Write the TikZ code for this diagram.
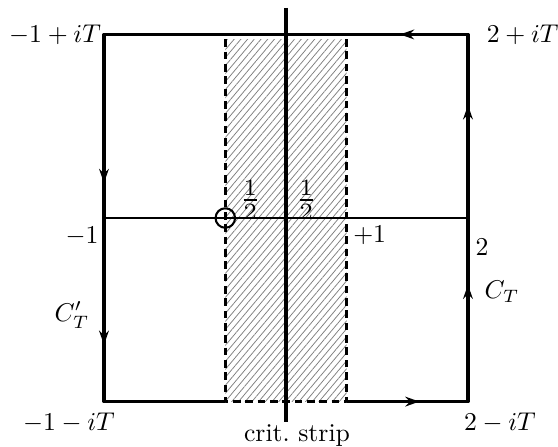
\documentclass[tikz,border=0pt]{standalone}
\usepackage{amsmath,amssymb}
\usetikzlibrary{patterns.meta,arrows.meta}
\begin{document}
\begin{tikzpicture}[x=1.66cm,y=1.66cm,>={Stealth[length=5.5pt,width=3.8pt,inset=1.8pt]},line join=round]
% ================= contour round the critical strip =================
  \def\tH{1.513}                        % height T of the box
  \def\sT{1.473}                        % top of the hatched strip
  \useasboundingbox (-1.857,-1.880) rectangle (2.742,1.797);
  \coordinate (ll) at (-1,-\tH);
  \coordinate (ul) at (-1,\tH);
  \coordinate (ur) at (2,\tH);
  \coordinate (lr) at (2,-\tH);
  \coordinate (sl) at (0,-\tH);
  \coordinate (sr) at (1,-\tH);
  % strip 0 < Re s < 1
  \fill[pattern={Lines[angle=50,distance=2.0pt,line width=0.3pt]},pattern color=black!50]
      (sl) rectangle (1,\sT);
  \draw[very thick,dash pattern=on 3pt off 1.8pt] (0,\sT) -- (sl) -- (sr) -- (1,\sT);
  % box
  \draw[very thick] (sl) -- (ll) -- (ul) -- (ur) -- (lr) -- (sr);
  % axes
  \draw[thick] (-1,0) -- (2,0);
  \draw[very thick] (0.5,1.731) -- (0.5,-1.682);
  \node[circle,draw,thick,minimum size=7.6pt,inner sep=0pt] (pole) at (0,0) {};
  % orientation
  \draw[very thick,->] (-1,0.42) -- (-1,0.289);
  \draw[very thick,->] (-1,-0.93) -- (-1,-1.045);
  \draw[very thick,->] (2,0.78) -- (2,0.93);
  \draw[very thick,->] (2,-0.68) -- (2,-0.55);
  \draw[very thick,->] (1.58,\tH) -- (1.44,\tH);
  \draw[very thick,->] (1.44,-\tH) -- (1.60,-\tH);
  % labels
  \node[left,inner sep=1pt] (zul) at (ul) {$-1+iT$};
  \node[right,inner sep=1pt] (zur) at (2.13,\tH) {$2+iT$};
  \node (zll) at (-1.289,-1.690) {$-1-iT$};
  \node (zlr) at (2.264,-1.690) {$2-iT$};
  \node (mone) at (-1.181,-0.148) {$-1$};
  \node (pone) at (1.19,-0.140) {$+1$};
  \node (two) at (2.115,-0.239) {$2$};
  \node (ctl) at (-1.264,-0.800) {$C'_T$};
  \node (ctr) at (2.280,-0.610) {$C_T$};
  \node[scale=1.3] (hl) at (0.206,0.148) {$\frac12$};
  \node[scale=1.3] (hr) at (0.668,0.148) {$\frac12$};
  \node (crit) at (0.591,-1.789) {crit.\ strip};
\end{tikzpicture}
\end{document}
